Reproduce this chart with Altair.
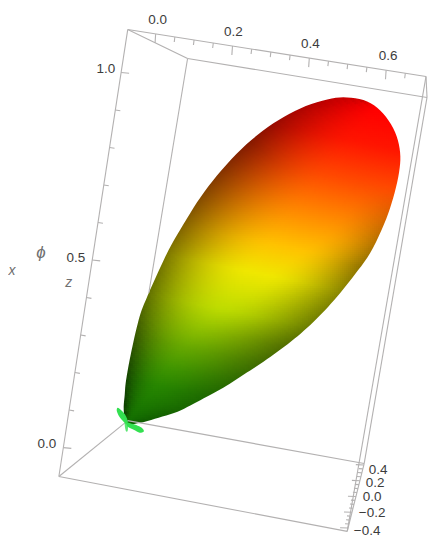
import math
import altair as alt
import pandas as pd

alt.data_transformers.disable_max_rows()

# lobe silhouette, clockwise from the tip
outline_x = [126,123,124,125,128,131,135,140,146,153,168,183,200,221,246,273,300,327,347,367,383,395,400,399,393,384,370,355,340,325,310,294,277,260,243,226,210,193,177,158,140]
outline_y = [424,410,395,383,365,350,332,313,298,282,250,224,197,170,144,123,108,99,97,101,113,132,152,172,198,224,253,274,293,310,325,339,352,364,375,386,395,404,412,418,423]

# colour ramp along the height of the surface
ramp_height = [32,70,110,150,190,222,265,310,335,355,405]
ramp_r = [255,255,255,255,255,240,190,105,65,40,15]
ramp_g = [0,22,75,135,195,232,220,170,150,135,105]
ramp_b = [0,0,0,0,0,0,0,0,0,0,0]

# bounding box corners
box_a = (127,29); box_b = (187,58); box_c = (427,97); box_d = (426,76)
box_p1 = (58,477); box_p2 = (127,421); box_p3 = (364,464); box_p4 = (347,532)

x_ticks = [i*0.05 for i in range(14)]
z_ticks = [i*0.1 for i in range(11)]
y_ticks = [-0.4+i*0.05 for i in range(17)]

labels_text = ["0.0","0.2","0.4","0.6","1.0","0.5","0.0","0.4","0.2","0.0","\u22120.2","\u22120.4"]
labels_x = [157,233,310,388,105,75,46,378,375,372,372,367]
labels_y = [19,31,43,55,69,258,444,470,484,498,514,532]

names_text = ["\u03d5","x","z"]
names_x = [40,11,68]
names_y = [253,271,283]
names_size = [17,14,14]

petal1_x = [125,121,118,116,117,121,125,127]
petal1_y = [424,420,416,411,408,411,416,422]
petal2_x = [126,131,137,142,143,139,133,127]
petal2_y = [423,424,426,429,432,433,430,427]
petal3_x = [124,125,127,127]
petal3_y = [423,431,431,423]

XS = alt.Scale(domain=[8,432])
YS = alt.Scale(domain=[542,8])
X = lambda f: alt.X(f, type="quantitative", scale=XS, axis=None)
Y = lambda f: alt.Y(f, type="quantitative", scale=YS, axis=None)

def smooth(xs, ys, n=5):
    m = len(xs); ox=[]; oy=[]
    for i in range(m):
        p0=(xs[i-1],ys[i-1]); p1=(xs[i],ys[i]); p2=(xs[(i+1)%m],ys[(i+1)%m]); p3=(xs[(i+2)%m],ys[(i+2)%m])
        for k in range(n):
            t=k/n
            f=lambda a,b,c,d:0.5*(2*b+(c-a)*t+(2*a-5*b+4*c-d)*t*t+(3*b-a-3*c+d)*t*t*t)
            ox.append(f(p0[0],p1[0],p2[0],p3[0])); oy.append(f(p0[1],p1[1],p2[1],p3[1]))
    return ox,oy

ox, oy = smooth(outline_x, outline_y)

def inside(px, py):
    c=False; n=len(ox)
    for i in range(n):
        j=i-1
        if (oy[i]>py)!=(oy[j]>py) and px < ox[j]+(py-oy[j])*(ox[i]-ox[j])/(oy[i]-oy[j]):
            c=not c
    return c

# lobe frame: tip -> far end
tip=(125,424); far=(372,104)
L=math.hypot(far[0]-tip[0],far[1]-tip[1])
ax=((far[0]-tip[0])/L,(far[1]-tip[1])/L); pp=(-ax[1],ax[0])
def uv(px,py):
    dx=px-tip[0]; dy=py-tip[1]
    return dx*ax[0]+dy*ax[1], dx*pp[0]+dy*pp[1]
NB=80
ouv=[uv(a,b) for a,b in zip(ox,oy)]
umax=max(p[0] for p in ouv)
lo=[0.0]*(NB+1); hi=[0.0]*(NB+1)
for k in range(NB+1):
    u=(k+0.5)/NB*umax
    vs=[]
    for i in range(len(ouv)):
        (u0,v0),(u1,v1)=ouv[i-1],ouv[i]
        if (u0<=u)!=(u1<=u):
            vs.append(v0+(u-u0)/(u1-u0)*(v1-v0))
    if len(vs)>=2:
        lo[k]=min(vs); hi[k]=max(vs)
    elif k>0:
        lo[k]=lo[k-1]; hi[k]=hi[k-1]

def ramp(s, arr):
    if s<=ramp_height[0]: return arr[0]
    for i in range(1,len(ramp_height)):
        if s<=ramp_height[i]:
            t=(s-ramp_height[i-1])/(ramp_height[i]-ramp_height[i-1])
            return arr[i-1]+(arr[i]-arr[i-1])*t
    return arr[-1]

def colour(px,py):
    s=py-0.2*px
    u,v=uv(px,py)
    k=max(0,min(NB,int(u/umax*NB)))
    w=max(3.0,hi[k]-lo[k])
    dl=max(0.0,min(1.0,(v-lo[k])/w))   # 0 on the left edge, 1 on the right edge
    fl=min(1.0,dl/0.52)
    fl=math.sin(fl*math.pi/2)
    wr=0.3+0.25*max(0.0,min(1.0,(s-170)/120))
    fr=min(1.0,(1-dl)/wr)
    fr=math.sin(fr*math.pi/2)
    kr=max(0.0,min(0.42,(s-110)/200))
    kr=kr*(1-0.6*max(0.0,min(1.0,(s-290)/80)))
    topf=max(0.0,min(1.0,(u/umax-0.74)/0.26))
    base=0.52+0.48*fl
    base=base+(1-base)*topf*0.6
    sh=base*(1-kr*(1-fr))
    r=ramp(s,ramp_r)*sh; g=ramp(s,ramp_g)*sh; b=ramp(s,ramp_b)*sh
    return "#%02x%02x%02x"%(int(min(255,r)),int(min(255,g)),int(min(255,b)))

# shaded surface cells
STEP=2
cells=[]
bx0,bx1=int(min(ox))-6,int(max(ox))+6
by0,by1=int(min(oy))-6,int(max(oy))+6
for yy in range(by0,by1,STEP):
    for xx in range(bx0,bx1,STEP):
        cx=xx+STEP/2; cy=yy+STEP/2
        near=any(inside(cx+a,cy+b) for a in (-4,0,4) for b in (-4,0,4))
        if near:
            cells.append({"x":xx,"x2":xx+STEP+1,"y":yy,"y2":yy+STEP+1,"c":colour(cx,cy)})
cells_df=pd.DataFrame(cells)
surface=alt.Chart(cells_df).mark_rect(strokeWidth=0).encode(
    x=X("x"),x2="x2",y=Y("y"),y2="y2",color=alt.Color("c:N",scale=None))

# white keyhole mask that gives the surface its smooth edge (hole wound the other way)
rx=ox[::-1]; ry=oy[::-1]
mx=[bx0-8,bx1+8,bx1+8,bx0-8,bx0-8]+rx+[rx[0],bx0-8]
my=[by0-8,by0-8,by1+8,by1+8,by0-8]+ry+[ry[0],by0-8]
mask=alt.Chart(pd.DataFrame({"x":mx,"y":my,"i":range(len(mx))})).mark_line(
    filled=True,color="white",strokeWidth=0,interpolate="linear").encode(
    x=X("x"),y=Y("y"),order=alt.Order("i:Q"))

# box edges, ticks
segs=[]
def seg(a,b):
    segs.append({"x":a[0],"y":a[1],"x2":b[0],"y2":b[1]})
def lerp(a,b,t): return (a[0]+(b[0]-a[0])*t,a[1]+(b[1]-a[1])*t)
seg(box_a,box_b); seg(box_b,box_c); seg(box_c,box_d); seg(box_d,box_a)
seg(box_p1,box_p2); seg(box_p2,box_p3); seg(box_p3,box_p4); seg(box_p4,box_p1)
seg(box_a,box_p1); seg(box_c,box_p3); seg(box_d,box_p4)
# rear edge disappears behind the surface
t_hit=1.0
for i in range(401):
    t=i/400
    p=lerp(box_b,box_p2,t)
    if inside(*p):
        t_hit=t; break
seg(box_b,lerp(box_b,box_p2,t_hit))

def xpos(v):
    t=(155+v*385-box_a[0])/(box_d[0]-box_a[0])
    return lerp(box_a,box_d,t)
for i,v in enumerate(x_ticks):
    p=xpos(v); ln=9 if i%4==0 else 5
    seg(p,(p[0]-0.6,p[1]+ln))
def zpos(v):
    yy=448-v*376
    t=(yy-box_a[1])/(box_p1[1]-box_a[1])
    return lerp(box_a,box_p1,t)
for i,v in enumerate(z_ticks):
    p=zpos(v); ln=8 if i%5==0 else 5
    seg(p,(p[0]+ln,p[1]+0.8))
def ypos(v):
    yy=497-v*79
    t=(box_p4[1]-yy)/(box_p4[1]-box_p3[1])
    return lerp(box_p4,box_p3,t)
for i,v in enumerate(y_ticks):
    p=ypos(v); ln=8 if i%4==0 else 4
    seg(p,(p[0]-ln,p[1]-0.3))
lines=alt.Chart(pd.DataFrame(segs)).mark_rule(color="#b3b1b1",strokeWidth=1.1).encode(
    x=X("x"),y=Y("y"),x2="x2",y2="y2")

def petal(xs,ys,opacity=1.0):
    xs2,ys2=smooth(xs,ys,4)
    return alt.Chart(pd.DataFrame({"x":xs2,"y":ys2,"i":range(len(xs2))})).mark_line(
        filled=True,color="#33e050",strokeWidth=0,opacity=opacity).encode(
        x=X("x"),y=Y("y"),order=alt.Order("i:Q"))
petals=[petal(petal1_x,petal1_y),petal(petal2_x,petal2_y),petal(petal3_x,petal3_y,0.8)]

ticklabels=alt.Chart(pd.DataFrame({"x":labels_x,"y":labels_y,"t":labels_text})).mark_text(
    font="Liberation Sans",fontSize=13.5,color="#3c3c3c",align="center",baseline="middle").encode(
    x=X("x"),y=Y("y"),text="t:N")
axisnames=alt.Chart(pd.DataFrame({"x":names_x,"y":names_y,"t":names_text,"s":names_size})).mark_text(
    font="Liberation Sans",fontStyle="italic",color="#707070",align="center",baseline="middle").encode(
    x=X("x"),y=Y("y"),text="t:N",size=alt.Size("s:Q",scale=None))

chart=alt.layer(surface,mask,lines,*petals,ticklabels,axisnames).properties(
    width=424,height=534,padding=0
).configure_view(stroke=None)

chart.save("out.html", embed_options={"renderer": "svg", "actions": False})
